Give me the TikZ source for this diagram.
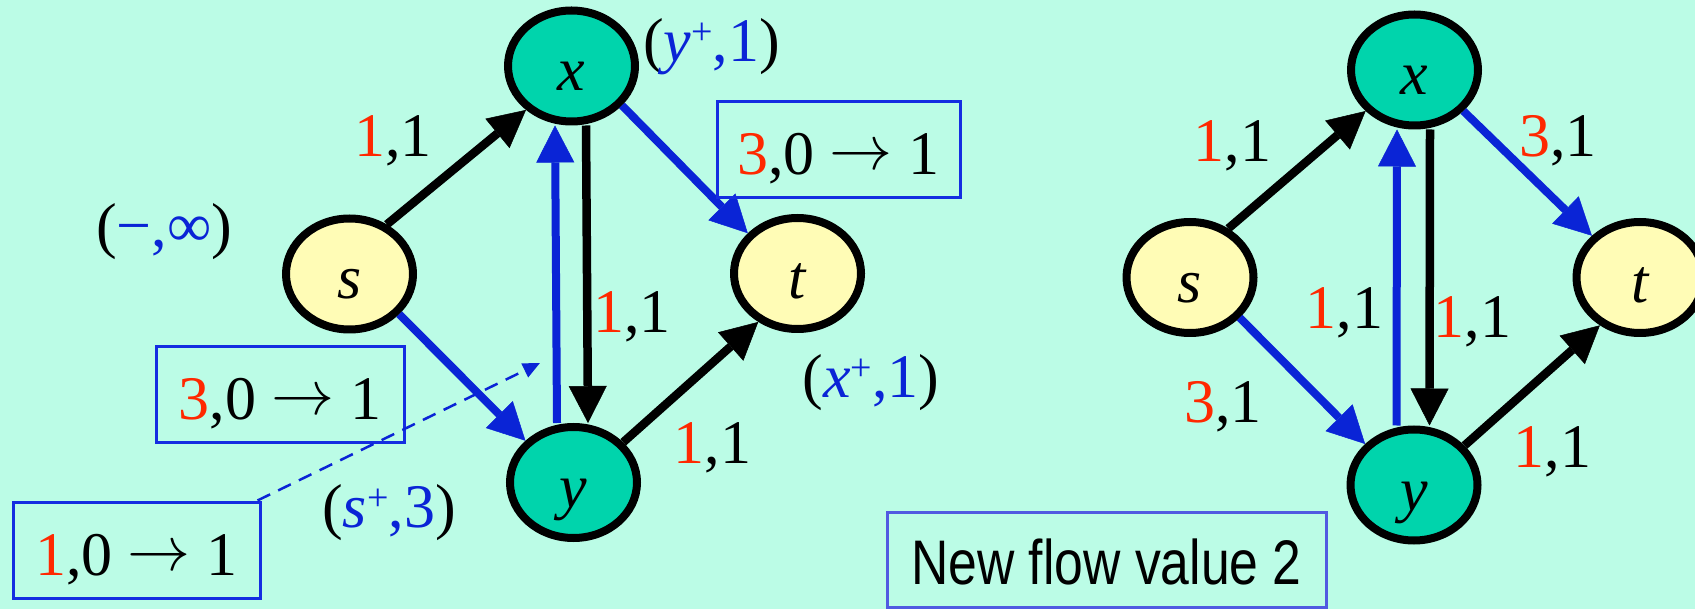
\documentclass[tikz,border=0pt]{standalone}
\usepackage{fontspec}
\setmainfont{Liberation Serif}
\newfontfamily\narrowsans[FakeStretch=0.82]{Liberation Sans}
\usetikzlibrary{arrows.meta,shapes.geometric}
\definecolor{bgmint}{RGB}{187,252,230}
\definecolor{nodeteal}{RGB}{0,212,172}
\definecolor{nodeyel}{RGB}{255,252,182}
\definecolor{eblue}{RGB}{10,36,214}
\definecolor{ered}{RGB}{255,40,0}
\definecolor{boxblue}{RGB}{20,45,225}
\definecolor{boxblueb}{RGB}{80,90,225}
\newcommand\plussup{{\fontsize{38pt}{40pt}\selectfont\raisebox{17pt}{+}}}
\newcommand\rd[1]{\textcolor{ered}{#1}}
\newcommand\bl[1]{\textcolor{eblue}{#1}}
\newcommand\toarrow{\hspace{15pt}\raisebox{5pt}{\resizebox{63pt}{!}{$\rightarrow$}}\hspace{16pt}}
\tikzset{
  vtx/.style={ellipse, draw=black, line width=8pt, minimum width=127pt, minimum height=111pt,
    inner sep=0pt, text height=50pt, text depth=0pt, font=\fontsize{62pt}{70pt}\selectfont\itshape},
  srcnode/.style={vtx, fill=nodeyel},
  midnode/.style={vtx, fill=nodeteal},
  blk/.style={draw=black, line width=8.5pt, -{Triangle[width=38pt,length=37pt,line width=0.5pt]}},
  blu/.style={draw=eblue, color=eblue, line width=8pt, -{Triangle[width=38pt,length=37pt,line width=0.5pt]}},
  lbl/.style={anchor=base, inner sep=0pt, font=\fontsize{62pt}{70pt}\selectfont},
  infobox/.style={draw=boxblue, line width=3pt, inner sep=0pt, minimum height=96pt,
    text height=50pt, text depth=0pt, font=\fontsize{62pt}{70pt}\selectfont},
}
\begin{document}
\begin{tikzpicture}[x=1pt,y=-1pt]
\fill[bgmint] (0,0) rectangle (1695,609);
\useasboundingbox (0,0) rectangle (1695,609);

% ---------- left graph ----------
\node[srcnode] (s1) at (349.5,274) {s};
\node[midnode] (x1) at (571.5,66) {x};
\node[srcnode] (t1) at (797.5,273.5) {t};
\node[midnode] (y1) at (573.5,482.5) {y};

\draw[blk] (s1.53) -- (x1.224);
\draw[blu] (s1.-39) -- (y1.139);
\draw[blu] (x1.-38) -- (t1.141);
\draw[blk] (y1.39) -- (t1.231);
\draw[blu] ([xshift=-16.5pt]y1.north) -- ([xshift=-16.5pt]x1.south);
\draw[blk] ([xshift=14.5pt]x1.south) -- ([xshift=14.5pt]y1.north);

\node[lbl] (l1) at (393,157) {\rd{1},1};
\node[lbl] (l2) at (632,333) {\rd{1},1};
\node[lbl] (l3) at (712.5,463) {\rd{1},1};
\node[lbl] (a1) at (711.5,62) {(\bl{\textit{y}\plussup,1})};
\node[lbl] (a2) at (871,398) {(\bl{\textit{x}\plussup,1})};
\node[lbl] (a3) at (164,247) {(\bl{−,∞})};
\node[lbl] (a4) at (389,527) {(\bl{\textit{s}\plussup,3})};

\node[infobox, minimum width=243pt] (b1) at (838.5,150) {\rd{3},0\toarrow1};
\node[infobox, minimum width=248pt] (b2) at (280,394.5) {\rd{3},0\toarrow1};
\node[infobox, minimum width=247pt] (b3) at (136.5,550) {\rd{1},0\toarrow1};

\coordinate (dtip) at (540,363);
\draw[eblue, line width=2.5pt, dash pattern=on 14pt off 9pt,
  -{Triangle[width=15pt,length=17pt]}] ([xshift=-4pt]b3.north east) -- (dtip);

% ---------- right graph ----------
\node[srcnode] (s2) at (1190,277.5) {s};
\node[midnode] (x2) at (1414.5,70) {x};
\node[srcnode] (t2) at (1640,277.5) {t};
\node[midnode] (y2) at (1414,485) {y};

\draw[blk] (s2.52) -- (x2.220);
\draw[blu] (s2.-39) -- (y2.140);
\draw[blu] (x2.-40) -- (t2.139);
\draw[blk] (y2.38) -- (t2.230);
\draw[blu] ([xshift=-17.5pt]y2.north) -- ([xshift=-17.5pt]x2.south);
\draw[blk] ([xshift=15.5pt]x2.south) -- ([xshift=15.5pt]y2.north);

\node[lbl] (r1) at (1232.5,162) {\rd{1},1};
\node[lbl] (r2) at (1558,157) {\rd{3},1};
\node[lbl] (r3) at (1344.5,329) {\rd{1},1};
\node[lbl] (r4) at (1472.5,338) {\rd{1},1};
\node[lbl] (r5) at (1223,423) {\rd{3},1};
\node[lbl] (r6) at (1552.5,467) {\rd{1},1};

\node[infobox, draw=boxblueb, minimum width=439pt, minimum height=95pt,
  font=\fontsize{63pt}{70pt}\narrowsans] (b4) at (1106.5,559.5) {New flow value 2};
\end{tikzpicture}
\end{document}
